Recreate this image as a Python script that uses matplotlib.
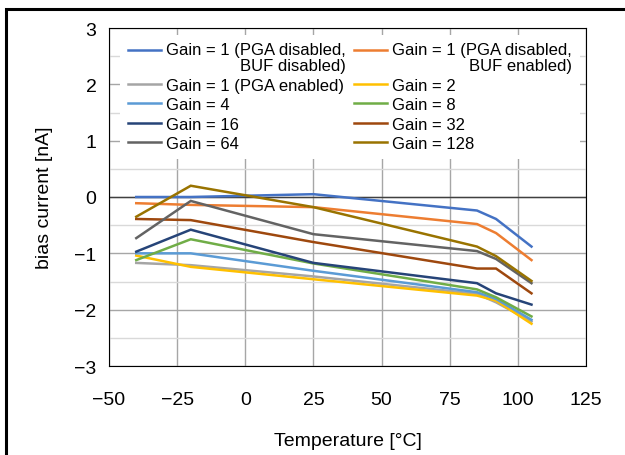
import matplotlib
matplotlib.use("Agg")
import matplotlib.pyplot as plt
from matplotlib.patches import Rectangle

plt.rcParams['font.family'] = ['Liberation Sans', 'DejaVu Sans']

# Temperatur in °C
temperature = [-40, -20, 25, 85, 92, 105]

labels = [
    "Gain = 1 (PGA disabled,\nBUF disabled)",
    "Gain = 1 (PGA disabled,\nBUF enabled)",
    "Gain = 1 (PGA enabled)",
    "Gain = 2",
    "Gain = 4",
    "Gain = 8",
    "Gain = 16",
    "Gain = 32",
    "Gain = 64",
    "Gain = 128",
]
colors = ["#4472C4", "#ED7D31", "#A5A5A5", "#FFC000", "#5B9BD5",
          "#70AD47", "#264478", "#9E480E", "#636363", "#997300"]

# bias current in nA
g1_buf_dis = [0.00, 0.00, 0.05, -0.24, -0.39, -0.88]
g1_buf_en = [-0.11, -0.14, -0.18, -0.48, -0.64, -1.12]
g1_pga_en = [-1.17, -1.21, -1.41, -1.72, -1.87, -2.21]
g2 = [-1.04, -1.24, -1.46, -1.75, -1.84, -2.25]
g4 = [-1.00, -1.00, -1.31, -1.69, -1.81, -2.18]
g8 = [-1.12, -0.75, -1.18, -1.64, -1.78, -2.12]
g16 = [-0.97, -0.58, -1.17, -1.53, -1.71, -1.91]
g32 = [-0.39, -0.41, -0.80, -1.27, -1.27, -1.71]
g64 = [-0.73, -0.07, -0.66, -0.96, -1.10, -1.53]
g128 = [-0.35, 0.20, -0.18, -0.88, -1.05, -1.49]

series = [g1_buf_dis, g1_buf_en, g1_pga_en, g2, g4, g8, g16, g32, g64, g128]

fig = plt.figure(figsize=(6.25, 4.56), dpi=100)
ax = fig.add_axes([109 / 625, 1 - 367 / 456, 477 / 625, 338 / 456])

lines = []
for vals, lab, col in zip(series, labels, colors):
    ln, = ax.plot(temperature, vals, color=col, lw=1.8, label=lab, zorder=3,
                  solid_joinstyle="miter")
    lines.append(ln)

ax.set_xlim(-50, 125)
ax.set_ylim(-3, 3)
ax.set_xticks(range(-50, 126, 25))
ax.set_yticks(range(-3, 4))
ax.set_yticks([-2.5, -1.5, -0.5, 0.5, 1.5, 2.5], minor=True)
ax.grid(True, which="major", color="#a6a6a6", lw=1.0)
ax.grid(True, which="minor", axis="y", color="#d9d9d9", lw=1.0)
ax.axhline(0, color="#404040", lw=1.0, zorder=2)
ax.tick_params(which="both", length=0, labelsize=14)
ax.tick_params(axis="x", pad=18)
ax.tick_params(axis="y", pad=9)
for s in ax.spines.values():
    s.set_color("#000000")
    s.set_linewidth(0.8)

ax.set_xlabel("Temperature [°C]", fontsize=14, labelpad=17)
ax.set_ylabel("bias current [nA]", fontsize=14, labelpad=15)

# Legende zeilenweise sortieren
order = [0, 2, 4, 6, 8, 1, 3, 5, 7, 9]
leg = ax.legend([lines[i] for i in order], [labels[i] for i in order],
                ncol=2, loc="upper left", bbox_to_anchor=(11 / 477, 331 / 338),
                fontsize=12, frameon=True, facecolor="white", edgecolor="none",
                framealpha=1, fancybox=False, borderpad=0.45, borderaxespad=0,
                handlelength=2.0, handletextpad=0.3, columnspacing=0.5,
                labelspacing=0.27)
leg.set_zorder(5)
for idx in (0, 5):
    t = leg.get_texts()[idx]
    t.set_multialignment("right")
    t.set_linespacing(1.05)
    h = leg.legend_handles[idx]
    h.set_ydata([y + 5.5 for y in h.get_ydata()])

# Rahmen links und oben
fig.add_artist(Rectangle((5.5 / 625, -0.5), 2.0, (456 - 9.5) / 456 + 0.5,
                         transform=fig.transFigure, fill=False,
                         edgecolor="black", lw=2.2, clip_on=False))

fig.savefig("out.png", dpi=100)
